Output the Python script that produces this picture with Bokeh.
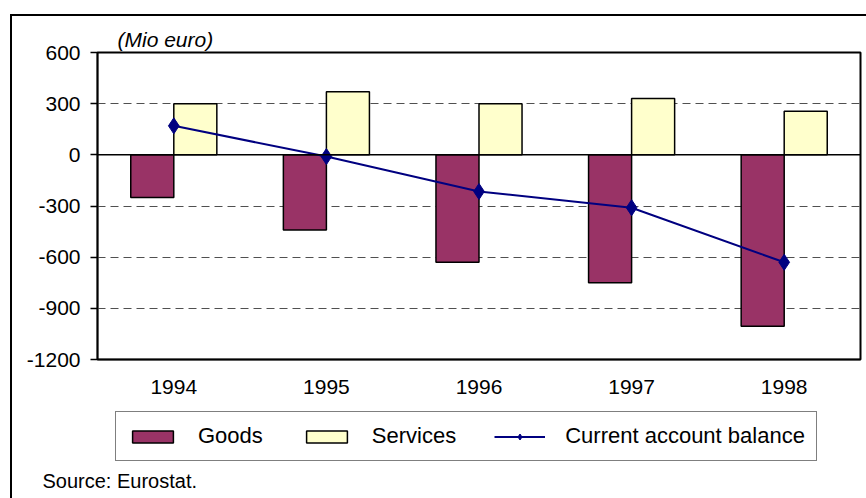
from bokeh.plotting import figure
from bokeh.layouts import column
from bokeh.models import (ColumnDataSource, FactorRange, Range1d, FixedTicker, Span,
                          Legend, LegendItem, Title, Label)
from bokeh.transform import dodge
from bokeh.embed import file_html
from bokeh.resources import INLINE

# ---- data ----
years = ["1994", "1995", "1996", "1997", "1998"]
goods = [-250, -440, -630, -750, -1005]
services = [300, 370, 300, 330, 255]
current_account = [170, -10, -215, -310, -630]

y_ticks = [-1200, -900, -600, -300, 0, 300, 600]
y_tick_labels = ["-1200", "-900", "-600", "-300", "0", "300", "600"]

series_names = ["Goods", "Services", "Current account balance"]
unit_text = "(Mio euro)"
source_text = "Source: Eurostat."

FONT = "Liberation Sans"
GOODS_COLOR = "#993366"
SERV_COLOR = "#FFFFCC"
LINE_COLOR = "#000080"

src = ColumnDataSource(dict(year=years, goods=goods, services=services,
                            ca=current_account))

p = figure(x_range=FactorRange(factors=years), y_range=Range1d(-1200, 600),
           width=854, height=387, output_backend="svg", toolbar_location=None,
           title=None,
           min_border_left=85, min_border_right=6, min_border_top=36,
           min_border_bottom=44)
p.background_fill_color = "white"
p.border_fill_color = "white"
p.outline_line_color = "black"
p.outline_line_width = 2

# axes
p.yaxis.ticker = FixedTicker(ticks=y_ticks)
p.yaxis.major_label_overrides = {t: s for t, s in zip(y_ticks, y_tick_labels)}
p.yaxis.minor_tick_line_color = None
p.yaxis.major_tick_in = 0
p.yaxis.major_tick_out = 7
p.yaxis.major_tick_line_color = "black"
p.yaxis.major_tick_line_width = 1.5
p.yaxis.axis_line_color = "black"
p.yaxis.axis_line_width = 1.5
p.yaxis.major_label_standoff = 10
p.yaxis.major_label_text_font = FONT
p.yaxis.major_label_text_font_size = "21px"
p.yaxis.major_label_text_color = "black"

p.xaxis.major_tick_line_color = None
p.xaxis.minor_tick_line_color = None
p.xaxis.major_tick_out = 0
p.xaxis.axis_line_color = "black"
p.xaxis.axis_line_width = 1.5
p.xaxis.major_label_standoff = 20
p.xaxis.major_label_text_font = FONT
p.xaxis.major_label_text_font_size = "21px"
p.xaxis.major_label_text_color = "black"

# grid
p.xgrid.grid_line_color = None
p.ygrid.ticker = FixedTicker(ticks=y_ticks)
p.ygrid.grid_line_color = "#505050"
p.ygrid.grid_line_dash = "8 5"
p.ygrid.grid_line_width = 1

zero = Span(location=0, dimension="width", line_color="black", line_width=1.5)
p.add_layout(zero)

# bars
bw = 0.282
p.vbar(x=dodge("year", -bw / 2, range=p.x_range), top="goods", bottom=0,
       width=bw, source=src, fill_color=GOODS_COLOR, line_color="black",
       line_width=1.5)
p.vbar(x=dodge("year", bw / 2, range=p.x_range), top="services", bottom=0,
       width=bw, source=src, fill_color=SERV_COLOR, line_color="black",
       line_width=1.5)

# line
p.line(x="year", y="ca", source=src, line_color=LINE_COLOR, line_width=2)
p.scatter(x="year", y="ca", source=src, marker="diamond", size=16,
          fill_color=LINE_COLOR, line_color=LINE_COLOR)

p.add_layout(Title(text=unit_text, align="left", offset=20, standoff=4,
                   text_font=FONT, text_font_size="21px", text_font_style="italic",
                   text_color="black"), "above")

# ---- legend + source strip (its own figure so nothing is clipped) ----
p2 = figure(width=854, height=95, output_backend="svg", toolbar_location=None,
            title=None, x_axis_location=None, y_axis_location=None,
            x_range=FactorRange(factors=["key"]), y_range=Range1d(5000, 6000),
            min_border=0, min_border_left=0, min_border_right=0,
            min_border_top=0, min_border_bottom=0)
p2.outline_line_color = None
p2.grid.grid_line_color = None
p2.background_fill_color = "white"
p2.border_fill_color = "white"

aligned = True
for fig in (p, p2):
    if "frame_align" in fig.properties():
        fig.frame_align = False
        aligned = False
strip_left = 85 if aligned else 0   # frame left of the strip, in canvas px

# legend proxies: same series, their factors are not on the strip's range,
# so only their legend swatches are drawn
k_g = p2.vbar(x="year", top="goods", bottom=0, width=0.2, source=src,
              fill_color=GOODS_COLOR, line_color="black", line_width=1.5)
k_s = p2.vbar(x="year", top="services", bottom=0, width=0.2, source=src,
              fill_color=SERV_COLOR, line_color="black", line_width=1.5)
k_l = p2.line(x="year", y="ca", source=src, line_color=LINE_COLOR, line_width=2)
k_m = p2.scatter(x="year", y="ca", source=src, marker="diamond", size=12,
                 fill_color=LINE_COLOR, line_color=LINE_COLOR)

legend = Legend(items=[LegendItem(label=series_names[0], renderers=[k_g]),
                       LegendItem(label=series_names[1], renderers=[k_s]),
                       LegendItem(label=series_names[2], renderers=[k_l, k_m])],
                orientation="horizontal", location=(103 - strip_left, 37),
                label_text_font=FONT, label_text_font_size="22px",
                label_text_color="black",
                glyph_width=51, glyph_height=15, label_standoff=20, spacing=38,
                padding=11, margin=0,
                border_line_color="black", border_line_width=1.5,
                background_fill_color="white", background_fill_alpha=1)
p2.add_layout(legend)
p2.add_layout(Label(x=30 - strip_left, y=18, x_units="screen", y_units="screen",
                    text=source_text, text_font=FONT, text_font_size="20px",
                    text_baseline="middle", text_color="black"))

layout = column(p, p2, spacing=0,
                styles={"border-left": "2px solid black",
                        "border-top": "2px solid black",
                        "margin-left": "10px", "margin-top": "14px"})

open("out.html", "w").write(file_html(layout, INLINE))
